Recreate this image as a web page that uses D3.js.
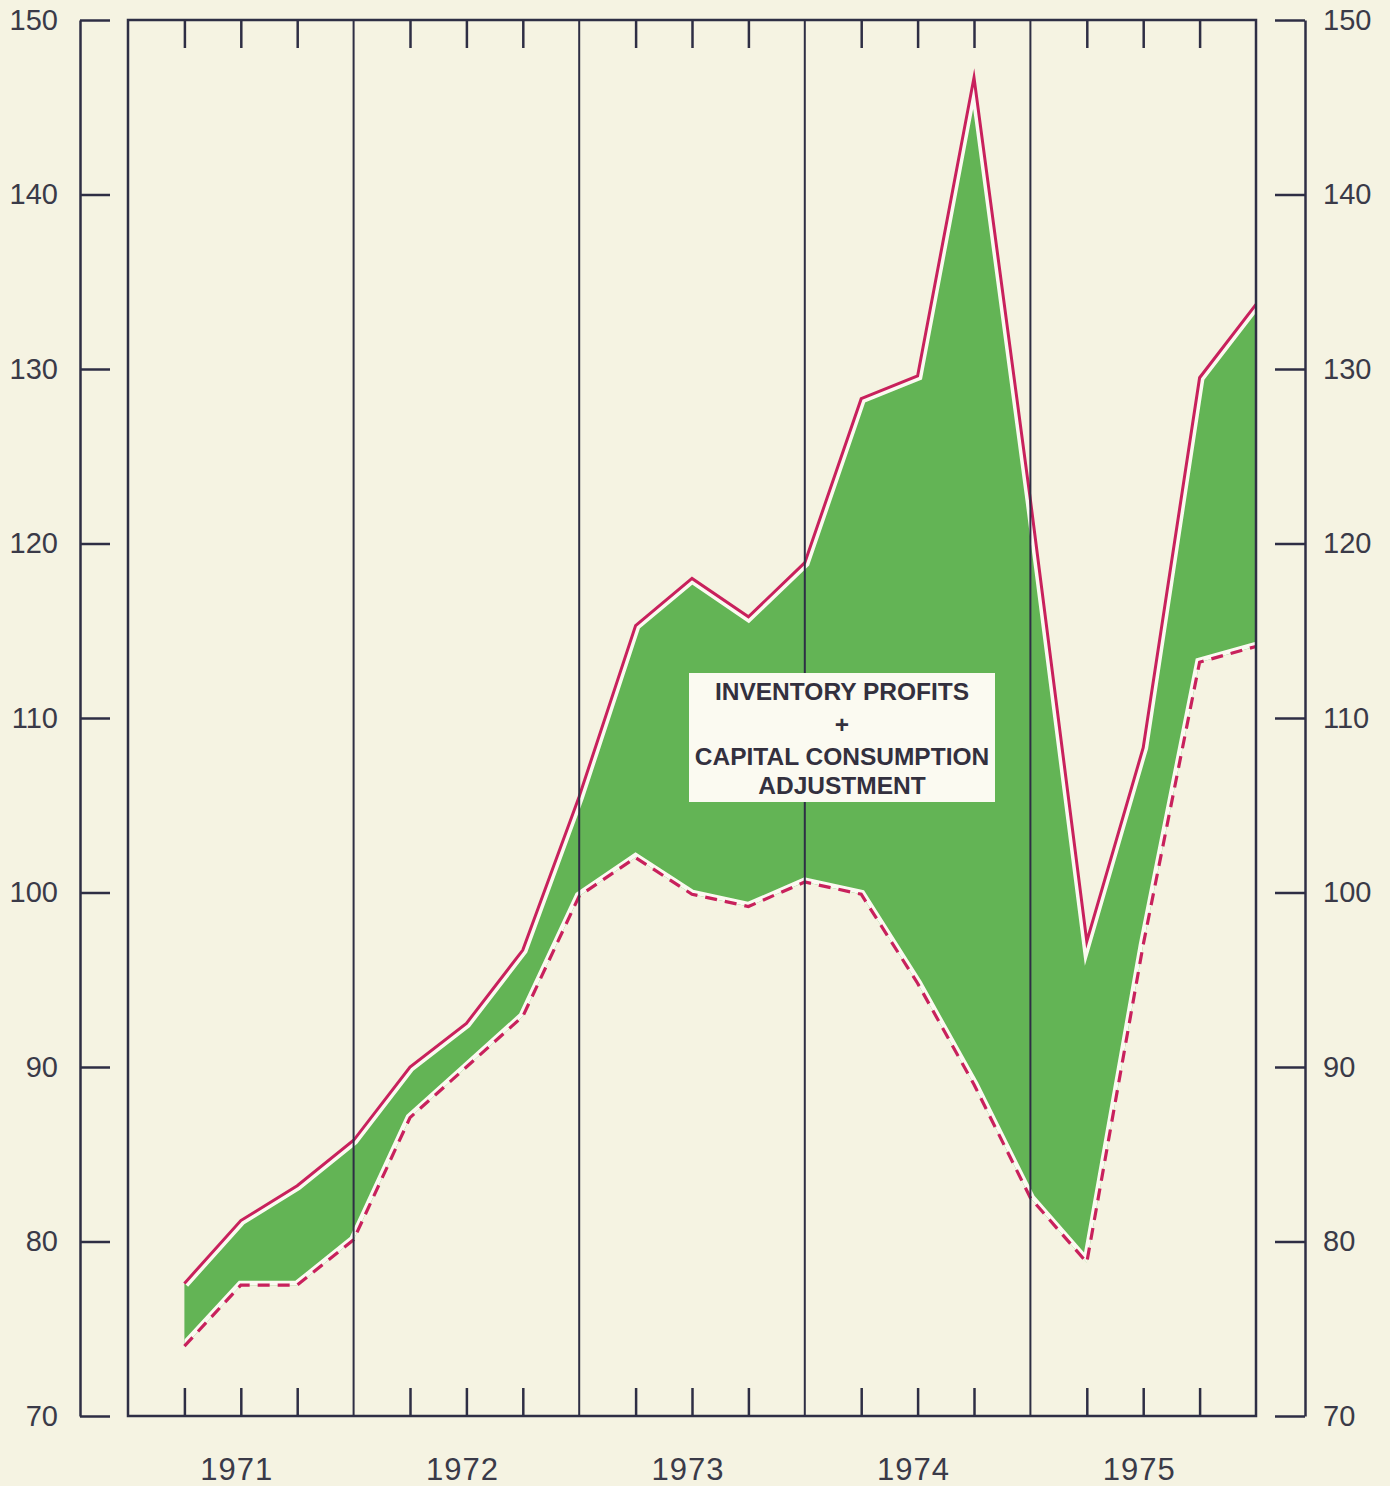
<!DOCTYPE html>
<html>
<head>
<meta charset="utf-8">
<script src="https://cdn.jsdelivr.net/npm/d3@7"></script>
<style>
  html, body { margin: 0; padding: 0; background: #f5f3e2; }
  svg { display: block; }
</style>
</head>
<body>
<svg id="chart" width="1390" height="1486"></svg>
<script>
// ---- data ----
const years = ["1971", "1972", "1973", "1974", "1975"];
const quarters = ["71Q1","71Q2","71Q3","71Q4","72Q1","72Q2","72Q3","72Q4",
                  "73Q1","73Q2","73Q3","73Q4","74Q1","74Q2","74Q3","74Q4",
                  "75Q1","75Q2","75Q3","75Q4"];
const upperValues = [77.6, 81.2, 83.2, 85.8, 90.0, 92.5, 96.7, 105.5,
                     115.3, 118.0, 115.8, 118.9, 128.3, 129.6, 146.7, 122.5,
                     97.2, 108.3, 129.5, 133.7];
const lowerValues = [74.0, 77.5, 77.5, 80.1, 87.1, 90.0, 92.9, 99.8,
                     102.0, 99.9, 99.2, 100.6, 99.9, 94.8, 89.0, 82.5,
                     78.8, 97.0, 113.2, 114.1];
const yTicks = [70, 80, 90, 100, 110, 120, 130, 140, 150];
const labelLines = ["INVENTORY PROFITS", "+", "CAPITAL CONSUMPTION", "ADJUSTMENT"];

// ---- layout ----
const L = 128, R = 1256, T = 20, B = 1416;
const ink = "#2e2e44";
const textInk = "#3a3a48";
const magenta = "#c8215c";
const green = "#63b455";
const paperLight = "#fbfaf1";

const svg = d3.select("#chart");
svg.append("rect").attr("width", 1390).attr("height", 1486).attr("fill", "#f5f3e2");

const x = d3.scaleLinear().domain([0, quarters.length]).range([L, R]);
const y = d3.scaleLinear().domain([70, 150]).range([B, T]);

const data = quarters.map((q, i) => ({ q, i: i + 1, up: upperValues[i], lo: lowerValues[i] }));

const area = d3.area().x(d => x(d.i)).y0(d => y(d.lo)).y1(d => y(d.up));
const upLine = d3.line().x(d => x(d.i)).y(d => y(d.up));
const loLine = d3.line().x(d => x(d.i)).y(d => y(d.lo));

const defs = svg.append("defs");
defs.append("clipPath").attr("id", "areaClip")
  .append("path").attr("d", area(data));

// green band
svg.append("path").attr("d", area(data)).attr("fill", green);

// light gaps inside band
const gaps = svg.append("g").attr("clip-path", "url(#areaClip)");
gaps.append("path").attr("d", upLine(data)).attr("fill", "none")
  .attr("stroke", paperLight).attr("stroke-width", 10).attr("stroke-linejoin", "miter").attr("stroke-miterlimit", 20);
gaps.append("path").attr("d", loLine(data)).attr("fill", "none")
  .attr("stroke", paperLight).attr("stroke-width", 9).attr("stroke-linejoin", "miter").attr("stroke-miterlimit", 20);

// lines
svg.append("path").attr("d", upLine(data)).attr("fill", "none")
  .attr("stroke", magenta).attr("stroke-width", 3).attr("stroke-linejoin", "miter").attr("stroke-miterlimit", 20);
svg.append("path").attr("d", loLine(data)).attr("fill", "none")
  .attr("stroke", magenta).attr("stroke-width", 3.2).attr("stroke-dasharray", "12,8");

// frame
svg.append("rect").attr("x", L).attr("y", T).attr("width", R - L).attr("height", B - T)
  .attr("fill", "none").attr("stroke", ink).attr("stroke-width", 2.5);

// year separators
const yearBounds = d3.range(1, years.length).map(k => k * 4);
svg.append("g").selectAll("line").data(yearBounds).join("line")
  .attr("x1", d => x(d)).attr("x2", d => x(d)).attr("y1", T).attr("y2", B)
  .attr("stroke", ink).attr("stroke-width", 2);

// quarter ticks (top and bottom)
const qTicks = d3.range(1, quarters.length).filter(k => k % 4 !== 0);
const topAxis = d3.axisTop(x).tickValues(qTicks).tickSizeInner(-28).tickSizeOuter(0).tickFormat("");
const botAxis = d3.axisBottom(x).tickValues(qTicks).tickSizeInner(-28).tickSizeOuter(0).tickFormat("");
[ [topAxis, T], [botAxis, B] ].forEach(([ax, yy]) => {
  const g = svg.append("g").attr("transform", `translate(0,${yy})`).call(ax);
  g.select(".domain").remove();
  g.selectAll(".tick line").attr("stroke", ink).attr("stroke-width", 2.5);
});

// left and right value axes
function styleAxis(g) {
  g.select(".domain").attr("stroke", ink).attr("stroke-width", 2.5);
  g.selectAll(".tick line").attr("stroke", ink).attr("stroke-width", 2.5);
  g.selectAll(".tick text").attr("fill", textInk)
    .style("font-family", "'Liberation Sans', Arial, sans-serif").style("font-size", "29px");
}
const leftAxis = d3.axisLeft(y).tickValues(yTicks).tickSizeInner(-30).tickSizeOuter(0).tickPadding(22);
svg.append("g").attr("transform", "translate(80,0)").call(leftAxis).call(styleAxis);
const rightAxis = d3.axisRight(y).tickValues(yTicks).tickSizeInner(-30).tickSizeOuter(0).tickPadding(18);
svg.append("g").attr("transform", "translate(1305,0)").call(rightAxis).call(styleAxis);

// year labels
svg.append("g").selectAll("text").data(years).join("text")
  .attr("x", (d, k) => x(k * 4 + 2) - 4).attr("y", 1480)
  .attr("text-anchor", "middle").attr("fill", textInk)
  .style("font-family", "'Liberation Sans', Arial, sans-serif").style("font-size", "31px")
  .style("letter-spacing", "1px")
  .text(d => d);

// label box
const bx = 689, by = 673, bw = 306, bh = 129;
svg.append("rect").attr("x", bx).attr("y", by).attr("width", bw).attr("height", bh).attr("fill", paperLight);
const baselines = [700, 733, 765, 794];
svg.append("g").selectAll("text").data(labelLines).join("text")
  .attr("x", bx + bw / 2).attr("y", (d, k) => baselines[k])
  .attr("text-anchor", "middle").attr("fill", "#33303e")
  .style("font-family", "'Liberation Sans', Arial, sans-serif").style("font-weight", "bold")
  .style("font-size", "24.5px")
  .text(d => d);
</script>
</body>
</html>
